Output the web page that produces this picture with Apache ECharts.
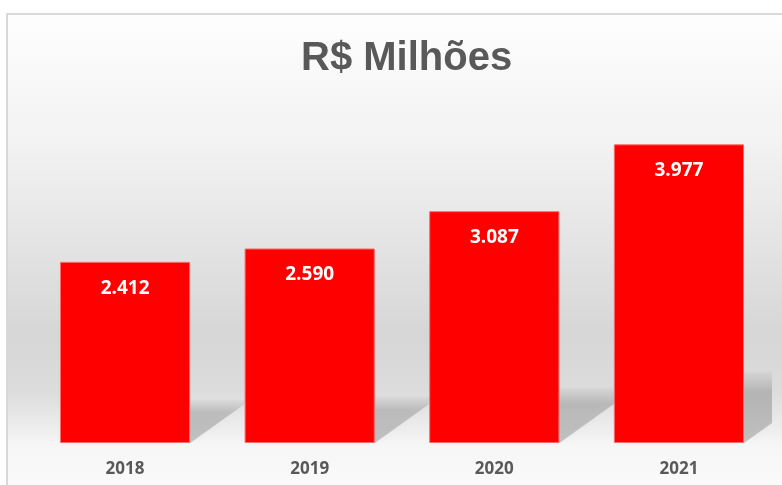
<!DOCTYPE html>
<html>
<head>
<meta charset="utf-8">
<script src="https://cdn.jsdelivr.net/npm/echarts@6/dist/echarts.min.js"></script>
<style>
  html, body { margin: 0; padding: 0; background: #fff; overflow: hidden; width: 782px; height: 485px; }
  #box {
    position: absolute; left: 6px; top: 13px;
    width: 776px; height: 472px;
    border-left: 2px solid #d9d9d9; border-top: 2px solid #d9d9d9;
  }
  #chart { width: 776px; height: 470px; }
</style>
</head>
<body>
<div id="box"><div id="chart"></div></div>
<script>
// R$ milhões por ano
const years = ['2018', '2019', '2020', '2021']
const values = [2412, 2590, 3087, 3977]
const title = 'R$ Milhões'

const fmt = v => String(v).replace(/\B(?=(\d{3})+(?!\d))/g, '.')
const BAR_RATIO = 0.705

const chart = echarts.init(document.getElementById('chart'))

chart.setOption({
  animation: false,
  backgroundColor: {
    type: 'linear', x: 0, y: 0, x2: 0, y2: 1,
    colorStops: [
      { offset: 0, color: '#fefefe' },
      { offset: 0.277, color: '#f2f2f2' },
      { offset: 0.485, color: '#e4e4e4' },
      { offset: 0.68, color: '#d6d6d6' },
      { offset: 0.8, color: '#dcdcdc' },
      { offset: 0.883, color: '#eeeeee' },
      { offset: 0.915, color: '#f6f6f6' },
      { offset: 1, color: '#fafafa' }
    ]
  },
  title: {
    text: title,
    left: 288,
    top: 19,
    textStyle: {
      fontFamily: 'Liberation Sans',
      fontWeight: 'bold',
      fontSize: 40,
      color: '#595959'
    }
  },
  grid: { left: 24.75, right: 12.75, top: 52.5, bottom: 42 },
  xAxis: {
    type: 'category',
    data: years,
    axisLine: { show: false },
    axisTick: { show: false },
    axisLabel: {
      margin: 18,
      fontFamily: 'Open Sans',
      fontWeight: 'bold',
      fontSize: 17,
      color: '#595959'
    }
  },
  yAxis: {
    type: 'value',
    min: 0,
    max: 5000,
    show: false,
    splitLine: { show: false }
  },
  series: [
    {
      // sombra em perspectiva atrás das barras
      type: 'custom',
      z: 1,
      clip: true,
      silent: true,
      data: values.map((v, i) => [i, v]),
      renderItem(params, api) {
        const base = api.coord([api.value(0), 0])
        const top = api.coord([api.value(0), api.value(1)])
        const w = api.size([1, 0])[0] * BAR_RATIO
        const s = (base[1] - top[1]) * 0.24
        const dx = s * 1.4
        const xl = base[0] - w / 2
        const xr = base[0] + w / 2
        return {
          type: 'polygon',
          shape: {
            points: [[xl, base[1]], [xr, base[1]], [xr + dx, base[1] - s], [xl + dx, base[1] - s]]
          },
          style: {
            fill: {
              type: 'linear', x: 0, y: 0, x2: 0, y2: 1,
              colorStops: [
                { offset: 0, color: 'rgba(0,0,0,0.02)' },
                { offset: 0.3, color: 'rgba(0,0,0,0.17)' },
                { offset: 1, color: 'rgba(0,0,0,0.2)' }
              ]
            },
            shadowBlur: 6,
            shadowColor: 'rgba(0,0,0,0.12)'
          }
        }
      }
    },
    {
      type: 'bar',
      z: 2,
      data: values,
      barWidth: (BAR_RATIO * 100) + '%',
      itemStyle: {
        color: '#ff0000',
        borderColor: '#ff6a6a',
        borderWidth: 1
      },
      label: {
        show: true,
        position: 'insideTop',
        distance: 17,
        formatter: p => fmt(p.value),
        fontFamily: 'Open Sans',
        fontWeight: 'bold',
        fontSize: 19,
        color: '#ffffff'
      }
    }
  ]
})
</script>
</body>
</html>
